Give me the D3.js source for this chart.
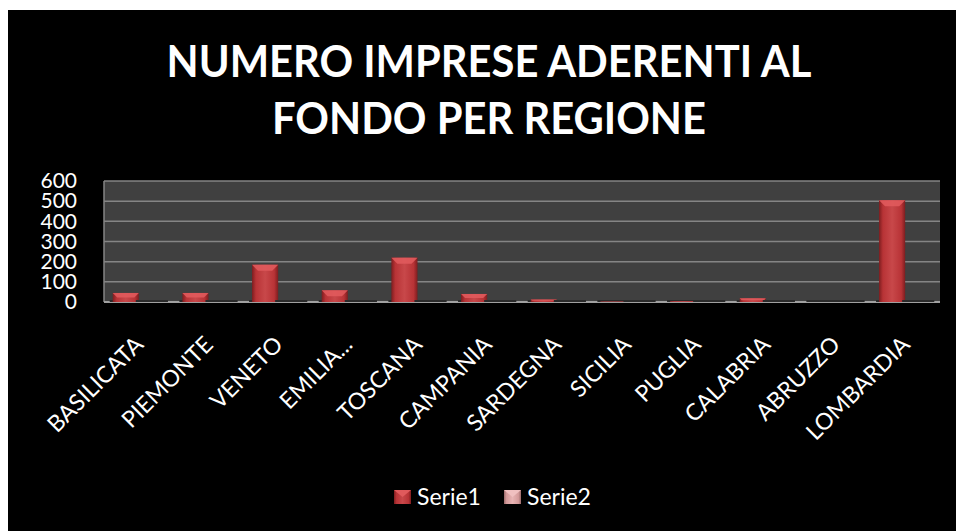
<!DOCTYPE html>
<html>
<head>
<meta charset="utf-8">
<script src="https://cdn.jsdelivr.net/npm/d3@7"></script>
<style>
  body { margin: 0; background: #fff; }
  text { font-family: Lato, "Open Sans", sans-serif; fill: #fff; }
</style>
</head>
<body>
<div class="chart"></div>
<script>
var regions = ["BASILICATA", "PIEMONTE", "VENETO", "EMILIA...", "TOSCANA", "CAMPANIA",
    "SARDEGNA", "SICILIA", "PUGLIA", "CALABRIA", "ABRUZZO", "LOMBARDIA"];
var serie1 = [45, 45, 185, 58, 220, 40, 12, 2, 4, 18, 0, 505];
var serie2 = [0, 0, 0, 0, 0, 0, 0, 0, 0, 0, 0, 0];
var seriesNames = ["Serie1", "Serie2"];
var yTicks = [0, 100, 200, 300, 400, 500, 600];
var titleLines = ["NUMERO IMPRESE ADERENTI AL", "FONDO PER REGIONE"];

var svgWidth = 956;
var svgHeight = 531;

var margin = { top: 181, right: 16, bottom: 229, left: 104 };
var width = svgWidth - margin.left - margin.right;
var height = svgHeight - margin.top - margin.bottom;

var svg = d3.select(".chart")
    .append("svg")
    .attr("width", svgWidth)
    .attr("height", svgHeight);

var defs = svg.append("defs");

function barGradient(id, dark, mid, light) {
    var g = defs.append("linearGradient").attr("id", id)
        .attr("x1", "0").attr("x2", "1").attr("y1", "0").attr("y2", "0");
    g.append("stop").attr("offset", "0%").attr("stop-color", dark);
    g.append("stop").attr("offset", "15%").attr("stop-color", mid);
    g.append("stop").attr("offset", "50%").attr("stop-color", light);
    g.append("stop").attr("offset", "85%").attr("stop-color", mid);
    g.append("stop").attr("offset", "100%").attr("stop-color", dark);
}
barGradient("g1", "#7e1d1f", "#b83336", "#c8484a");
barGradient("g2", "#9a6a6a", "#d49a9a", "#e8b4b4");

// black chart area
svg.append("rect")
    .attr("x", 8).attr("y", 10)
    .attr("width", svgWidth - 8).attr("height", svgHeight - 10)
    .attr("fill", "#000");

// title: Lato is wider than the original font, so squeeze it horizontally
var titleX = 489;
var title = svg.append("g");
var titleTexts = title.selectAll("text")
    .data(titleLines)
    .enter()
    .append("text")
    .attr("x", 0)
    .attr("y", (d, i) => 77 + i * 57)
    .attr("text-anchor", "middle")
    .attr("font-weight", "bold")
    .attr("font-size", "44px")
    .text(d => d);
var firstLen = titleTexts.node().getComputedTextLength();
var sx = 645 / firstLen;
title.attr("transform", `translate(${titleX}, 0) scale(${sx}, 1)`);

var chartGroup = svg.append("g")
    .attr("transform", `translate(${margin.left}, ${margin.top})`);

var x0 = d3.scaleBand().domain(regions).range([0, width]).paddingInner(0.25).paddingOuter(0.125);
var x1 = d3.scaleBand().domain(seriesNames).range([0, x0.bandwidth()]);
var y = d3.scaleLinear().domain([0, 600]).range([height, 0]);

// plot background
chartGroup.append("rect")
    .attr("width", width).attr("height", height)
    .attr("fill", "#404040");

chartGroup.append("g")
    .selectAll("line")
    .data(yTicks.slice(1))
    .enter()
    .append("line")
    .attr("x1", 0).attr("x2", width)
    .attr("y1", d => y(d)).attr("y2", d => y(d))
    .attr("stroke", "#858585")
    .attr("stroke-width", 1.5);

chartGroup.append("line")
    .attr("x1", 0).attr("x2", 0).attr("y1", 0).attr("y2", height)
    .attr("stroke", "#858585").attr("stroke-width", 1.5);
chartGroup.append("line")
    .attr("x1", 0).attr("x2", width).attr("y1", height).attr("y2", height)
    .attr("stroke", "#a0a0a0").attr("stroke-width", 2);

// y axis labels
var leftAxis = d3.axisLeft(y).tickValues(yTicks).tickSize(0).tickPadding(27);
var yAxis = chartGroup.append("g").call(leftAxis);
yAxis.select(".domain").remove();
yAxis.selectAll("text")
    .attr("fill", "#fff")
    .attr("font-size", "21px")
    .style("font-family", "Lato, sans-serif");

// bars
var groups = chartGroup.selectAll(".region")
    .data(regions)
    .enter()
    .append("g")
    .attr("transform", d => `translate(${x0(d)}, 0)`);

var bars = groups.selectAll("g.bar")
    .data(function(d, i) {
        return [
            { s: "Serie1", v: serie1[i], fill: "url(#g1)", cap: "#e05a5c" },
            { s: "Serie2", v: serie2[i], fill: "url(#g2)", cap: "#f0c0c0" }
        ];
    })
    .enter()
    .append("g")
    .attr("class", "bar");

// base shadow
bars.append("rect")
    .attr("x", d => x1(d.s) - 3)
    .attr("y", height - 2)
    .attr("width", x1.bandwidth() + 6)
    .attr("height", 2)
    .attr("fill", "#2a2a2a");

bars.filter(d => d.v > 0).append("rect")
    .attr("x", d => x1(d.s))
    .attr("y", d => y(d.v))
    .attr("width", x1.bandwidth())
    .attr("height", d => height - y(d.v))
    .attr("fill", d => d.fill);

// bevelled top highlight
bars.filter(d => d.v > 0).append("path")
    .attr("d", function(d) {
        var bw = x1.bandwidth();
        var h = Math.min(6, (height - y(d.v)) / 2);
        var x = x1(d.s), t = y(d.v);
        return `M${x},${t} L${x + bw},${t} L${x + bw - h},${t + h} L${x + h},${t + h} Z`;
    })
    .attr("fill", d => d.cap)
    .attr("opacity", 0.9);

// x labels
chartGroup.append("g")
    .selectAll("text")
    .data(regions)
    .enter()
    .append("text")
    .attr("transform", d => `translate(${x0(d) + x0.bandwidth() / 2 + 6}, ${height + 44}) rotate(-45)`)
    .attr("text-anchor", "end")
    .attr("font-size", "23px")
    .text(d => d);

// legend
var legend = svg.append("g").attr("transform", "translate(394, 490)");
var legendItems = legend.selectAll("g")
    .data(seriesNames)
    .enter()
    .append("g")
    .attr("transform", (d, i) => `translate(${i * 110}, 0)`);
legendItems.append("rect")
    .attr("width", 17).attr("height", 14)
    .attr("fill", (d, i) => i === 0 ? "url(#g1)" : "url(#g2)");
legendItems.append("path")
    .attr("d", "M0,0 L17,0 L8.5,7 Z")
    .attr("fill", (d, i) => i === 0 ? "#e05a5c" : "#f0c0c0");
legendItems.append("text")
    .attr("x", 23)
    .attr("y", 15)
    .attr("font-size", "23px")
    .text(d => d);
</script>
</body>
</html>
